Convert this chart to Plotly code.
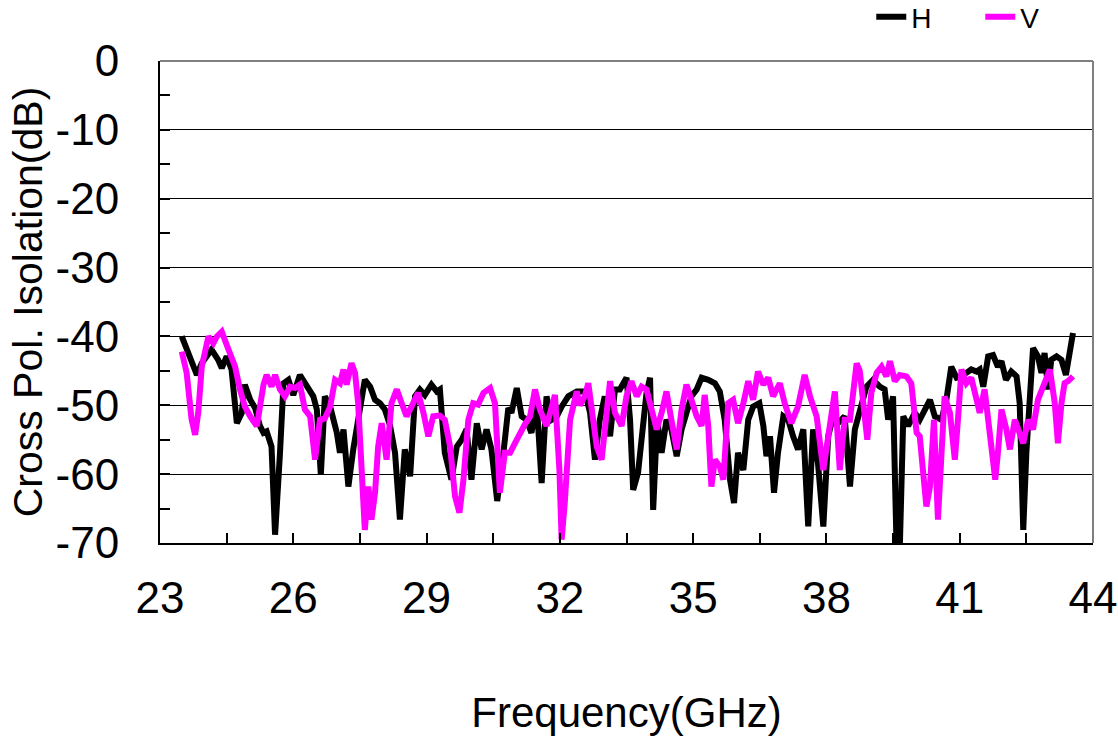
import plotly.graph_objects as go

# ---- data ----
h_freq = [23.49, 23.75, 23.83, 23.94, 24.16, 24.31, 24.39, 24.5, 24.61, 24.73, 24.84, 24.91, 25.03, 25.14,
          25.25, 25.33, 25.4, 25.51, 25.59, 25.7, 25.78, 25.89, 26.0, 26.15, 26.3, 26.45, 26.53, 26.62,
          26.71, 26.83, 26.98, 27.05, 27.13, 27.24, 27.35, 27.46, 27.61, 27.73, 27.84, 27.95, 28.06, 28.18,
          28.29, 28.4, 28.51, 28.63, 28.74, 28.85, 28.96, 29.11, 29.23, 29.3, 29.41, 29.56, 29.68, 29.79,
          29.9, 30.01, 30.13, 30.24, 30.35, 30.46, 30.59, 30.73, 30.84, 30.91, 31.03, 31.14, 31.25, 31.36,
          31.48, 31.59, 31.7, 31.81, 31.93, 32.04, 32.19, 32.38, 32.56, 32.68, 32.79, 32.9, 33.01, 33.13,
          33.24, 33.35, 33.5, 33.58, 33.65, 33.76, 33.88, 33.95, 34.03, 34.1, 34.19, 34.29, 34.4, 34.51,
          34.63, 34.74, 34.85, 34.96, 35.08, 35.19, 35.34, 35.49, 35.6, 35.71, 35.83, 35.92, 36.01, 36.13,
          36.24, 36.35, 36.49, 36.58, 36.65, 36.73, 36.82, 36.91, 37.03, 37.14, 37.25, 37.36, 37.48, 37.59,
          37.7, 37.81, 37.93, 38.04, 38.15, 38.26, 38.41, 38.53, 38.64, 38.75, 38.9, 39.05, 39.2, 39.31,
          39.39, 39.5, 39.58, 39.65, 39.73, 39.84, 39.99, 40.1, 40.21, 40.33, 40.44, 40.59, 40.7, 40.81,
          40.93, 41.04, 41.15, 41.26, 41.38, 41.45, 41.53, 41.64, 41.75, 41.86, 41.94, 42.04, 42.16, 42.28,
          42.35, 42.43, 42.5, 42.58, 42.65, 42.76, 42.84, 42.91, 42.99, 43.06, 43.18, 43.29, 43.39, 43.46,
          43.55]
h_db = [-40, -43.9, -45.6, -43.9, -41.9, -43.4, -44.6, -42.9, -44.8, -52.6, -51.1, -47, -49.2, -50.4,
        -53, -54, -53.8, -56, -68.8, -57, -46.8, -46.3, -48.5, -45.6, -47.3, -48.7, -50.6, -60.1,
        -48.7, -50.2, -54, -56.9, -53.5, -61.8, -56.4, -52.1, -46.3, -47.3, -49.2, -49.7, -50.6, -53,
        -56.9, -66.6, -56.4, -60.3, -48.7, -47.7, -48.5, -47, -48, -47.7, -56.9, -60.8, -56, -55,
        -53.5, -60.8, -52.6, -56.4, -53.5, -56.4, -63.9, -56.9, -50.4, -51.1, -47.5, -51.6, -52.1, -54,
        -49.7, -61.3, -48.7, -52.1, -51.6, -50.2, -48.7, -48, -48, -51.1, -57.9, -52.1, -48.7, -54.5,
        -47.7, -47.7, -46, -52.1, -62.3, -59.8, -53.5, -48.2, -46, -65.2, -52.1, -56.9, -52.1, -53.5,
        -57.4, -53.5, -51.1, -48.7, -47.7, -46, -46.3, -46.8, -48, -52.1, -60.8, -64.2, -56.9, -59.4,
        -52.1, -50.2, -49.7, -53, -57.4, -54.5, -62.7, -56.9, -51.6, -52.1, -54.5, -56.4, -53.5, -67.6,
        -53.5, -58.4, -67.6, -54.5, -51.6, -52.6, -51.6, -61.8, -53.5, -50.5, -47.3, -46.3, -47.3, -47.7,
        -52.1, -48.7, -71, -71, -51.6, -53, -51.1, -52.1, -50.6, -49.2, -51.6, -52.1, -49.2, -44.4,
        -46, -45.8, -45.3, -44.8, -45.1, -44.8, -47.3, -42.9, -42.7, -44.4, -43.6, -46.3, -45.1, -45.8,
        -49.7, -68.1, -56.9, -47.3, -41.7, -42.9, -45.3, -42.4, -47.7, -43.4, -42.9, -43.4, -45.6, -42.9,
        -39.5]

v_freq = [23.49, 23.6, 23.71, 23.79, 23.86, 23.94, 24.09, 24.2, 24.28, 24.39, 24.5, 24.69, 24.8, 24.91,
          25.03, 25.18, 25.25, 25.33, 25.4, 25.51, 25.59, 25.7, 25.81, 25.93, 26.04, 26.15, 26.26, 26.38,
          26.49, 26.6, 26.71, 26.83, 26.94, 27.05, 27.13, 27.2, 27.31, 27.39, 27.46, 27.54, 27.61, 27.69,
          27.76, 27.84, 27.91, 27.99, 28.1, 28.21, 28.33, 28.44, 28.55, 28.66, 28.81, 28.93, 29.04, 29.15,
          29.3, 29.41, 29.53, 29.64, 29.74, 29.83, 29.94, 30.05, 30.16, 30.28, 30.43, 30.54, 30.65, 30.76,
          30.88, 30.99, 31.1, 31.21, 31.33, 31.44, 31.55, 31.7, 31.89, 31.99, 32.04, 32.11, 32.23, 32.38,
          32.45, 32.56, 32.64, 32.75, 32.83, 32.94, 33.05, 33.13, 33.24, 33.39, 33.5, 33.61, 33.73, 33.84,
          33.95, 34.06, 34.18, 34.29, 34.4, 34.51, 34.63, 34.74, 34.85, 34.96, 35.08, 35.19, 35.26, 35.34,
          35.41, 35.49, 35.6, 35.68, 35.79, 35.9, 36.01, 36.13, 36.24, 36.35, 36.46, 36.58, 36.69, 36.8,
          36.95, 37.06, 37.21, 37.36, 37.51, 37.63, 37.78, 37.93, 38.04, 38.19, 38.3, 38.41, 38.53, 38.68,
          38.75, 38.83, 38.92, 39.01, 39.13, 39.24, 39.35, 39.43, 39.54, 39.65, 39.8, 39.91, 40.03, 40.1,
          40.18, 40.25, 40.33, 40.42, 40.51, 40.59, 40.66, 40.78, 40.89, 40.96, 41.04, 41.15, 41.26, 41.38,
          41.45, 41.56, 41.68, 41.8, 41.86, 41.94, 42.05, 42.13, 42.24, 42.35, 42.43, 42.54, 42.65, 42.76,
          42.88, 43.03, 43.14, 43.21, 43.29, 43.36, 43.44, 43.55]
v_db = [-42.2, -45.3, -52, -54.3, -51.1, -44.4, -40, -41, -40, -39.3, -41.2, -44.4, -47.7, -50.2,
        -51.6, -53, -50.2, -47, -45.6, -47.3, -45.6, -47.7, -48.7, -47.3, -47.5, -47, -50.6, -51.6,
        -57.9, -52.1, -51.9, -50.2, -46.3, -46.8, -44.8, -47, -43.9, -45.3, -49.7, -59.4, -68.1, -61.8,
        -66.6, -62.7, -56, -52.6, -57.9, -49.7, -47.7, -49.7, -51.6, -50.2, -48.2, -51.1, -54.5, -51.6,
        -51.5, -52.1, -56, -63.2, -65.6, -60.8, -52.1, -49.7, -49.9, -48.2, -47.5, -49.7, -62.7, -56.9,
        -56.9, -55.5, -54, -52.8, -51.6, -47.7, -50.6, -53, -48.5, -59.4, -69.5, -64.2, -52.1, -48,
        -50, -48.7, -46.8, -52.1, -56, -57.9, -52.1, -46.5, -51.1, -53, -48.7, -46.5, -48.7, -47.3,
        -47.7, -50.2, -53.5, -51.1, -48, -52.1, -56.4, -50.6, -47, -49.2, -51.6, -53, -48.5, -53,
        -61.8, -57.9, -58.9, -60.8, -49.7, -49.2, -52.6, -49.7, -46.5, -49.2, -45.1, -47, -46, -48.7,
        -46.8, -49.7, -52.6, -50.2, -45.6, -48.7, -51.6, -59.4, -54, -48, -59.4, -52.1, -52.1, -43.9,
        -45, -49.7, -55, -48.2, -45.3, -44.4, -45.8, -43.6, -46.5, -45.6, -45.8, -46.8, -54, -54.5,
        -59.4, -64.7, -61.8, -52.1, -66.6, -56, -48.7, -51.1, -57.9, -52.1, -44.8, -46.8, -46, -49.2,
        -51.1, -47.7, -54.5, -60.8, -56.9, -50.6, -53.5, -56.4, -52.1, -54, -55.5, -52.1, -53.5, -49.2,
        -47.3, -44.8, -49.7, -55.5, -49.7, -46.8, -46.5, -45.8]

x_ticks = [23, 26, 29, 32, 35, 38, 41, 44]
y_ticks = [0, -10, -20, -30, -40, -50, -60, -70]

FONT = "Liberation Sans, Arial, sans-serif"

fig = go.Figure()
fig.add_trace(go.Scatter(x=h_freq, y=h_db, mode="lines", name="H",
                         line=dict(color="#000000", width=6)))
fig.add_trace(go.Scatter(x=v_freq, y=v_db, mode="lines", name="V",
                         line=dict(color="#FF00FF", width=6)))

fig.update_layout(
    width=1118, height=738,
    margin=dict(l=160, r=25, t=61, b=195, autoexpand=False),
    paper_bgcolor="white", plot_bgcolor="white",
    font=dict(family=FONT, color="#000000"),
    showlegend=True,
    legend=dict(orientation="h", x=0.996, xanchor="right", y=1.091, yanchor="middle",
                font=dict(size=28, family=FONT), bgcolor="rgba(0,0,0,0)",
                itemwidth=30, tracegroupgap=0, entrywidth=64),
    xaxis=dict(range=[23, 44], tickmode="array", tickvals=x_ticks,
               ticktext=[str(t) for t in x_ticks],
               tickfont=dict(size=44, family=FONT), ticks="inside", ticklen=10,
               tickcolor="#000", tickwidth=1.5,
               minor=dict(dtick=1.5, tick0=23, ticks="inside", ticklen=10, tickcolor="#000",
                          tickwidth=1.5, showgrid=False),
               showgrid=False, zeroline=False, showline=True, linecolor="#000", linewidth=2,
               ticklabelstandoff=15, automargin=False,
               title=dict(text="Frequency(GHz)", font=dict(size=42, family=FONT), standoff=77)),
    yaxis=dict(range=[-70, 0], tickmode="array", tickvals=y_ticks,
               ticktext=[str(t) for t in y_ticks],
               tickfont=dict(size=44, family=FONT), ticks="inside", ticklen=10,
               tickcolor="#000", tickwidth=1.5,
               minor=dict(dtick=5, tick0=0, ticks="inside", ticklen=10, tickcolor="#000",
                          tickwidth=1.5, showgrid=False),
               showgrid=True, gridcolor="#000000", gridwidth=1.2,
               zeroline=False, showline=True, linecolor="#000", linewidth=2,
               ticklabelstandoff=30, automargin=False,
               title=dict(text="Cross Pol. Isolation(dB)", font=dict(size=41, family=FONT), standoff=0)),
    shapes=[
        dict(type="line", xref="x domain", yref="y domain", x0=0, x1=1, y0=1, y1=1,
             line=dict(color="#7f7f7f", width=2)),
        dict(type="line", xref="x domain", yref="y domain", x0=1, x1=1, y0=0, y1=1,
             line=dict(color="#7f7f7f", width=2)),
    ],
)

fig.write_html("out.html", config={"displayModeBar": False},
               post_script="document.body.style.margin='0';document.body.style.overflow='hidden';")
